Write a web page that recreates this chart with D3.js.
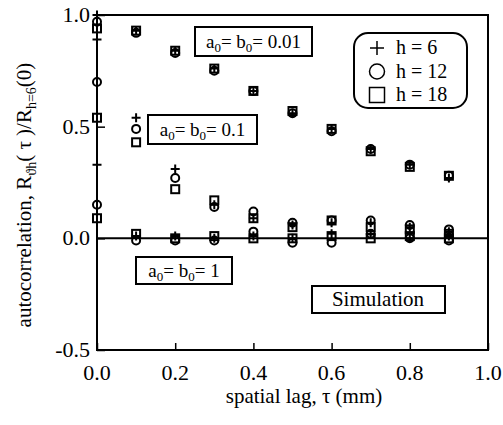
<!DOCTYPE html>
<html lang="en">
  <head>
    <meta charset="UTF-8" />
    <title>Autocorrelation vs spatial lag</title>
    <script src="https://cdn.jsdelivr.net/npm/d3@7/dist/d3.min.js"></script>
    <style>
      body { margin: 0; background: #fff; }
      text { font-family: 'Liberation Serif', 'DejaVu Serif', serif; fill: #000; }
    </style>
  </head>
  <body>
    <div id='app'></div>

    <script>
  // spatial lag values
  const tau = [0, 0.1, 0.2, 0.3, 0.4, 0.5, 0.6, 0.7, 0.8, 0.9]

  // a0 = b0 = 0.01
  const a001_h6  = [1.00, 0.93, 0.84, 0.76, 0.66, 0.56, 0.49, 0.40, 0.33, 0.27]
  const a001_h12 = [0.97, 0.92, 0.83, 0.75, 0.66, 0.56, 0.48, 0.40, 0.33, 0.28]
  const a001_h18 = [0.94, 0.93, 0.84, 0.76, 0.66, 0.57, 0.49, 0.39, 0.32, 0.28]

  // a0 = b0 = 0.1
  const a01_h6  = [0.89, 0.54, 0.31, 0.15, 0.09, 0.06, 0.07, 0.07, 0.05, 0.03]
  const a01_h12 = [0.70, 0.49, 0.27, 0.14, 0.12, 0.07, 0.08, 0.08, 0.06, 0.04]
  const a01_h18 = [0.54, 0.43, 0.22, 0.17, 0.09, 0.05, 0.08, 0.05, 0.04, 0.02]

  // a0 = b0 = 1
  const a1_h6  = [0.33, 0.01, 0.01, 0.00, 0.01, 0.00, 0.02, 0.02, 0.00, 0.01]
  const a1_h12 = [0.15, -0.01, -0.01, -0.01, 0.03, -0.02, -0.02, 0.02, 0.00, -0.01]
  const a1_h18 = [0.09, 0.02, 0.00, 0.01, 0.00, 0.00, 0.01, 0.00, 0.01, 0.00]

  const xTicks = [0, 0.2, 0.4, 0.6, 0.8, 1.0]
  const yTicks = [-0.5, 0, 0.5, 1.0]
  const legendLabels = ['h = 6', 'h = 12', 'h = 18']

  const series = [
    { sym: 'plus', values: a001_h6 }, { sym: 'circle', values: a001_h12 }, { sym: 'square', values: a001_h18 },
    { sym: 'plus', values: a01_h6 }, { sym: 'circle', values: a01_h12 }, { sym: 'square', values: a01_h18 },
    { sym: 'plus', values: a1_h6 }, { sym: 'circle', values: a1_h12 }, { sym: 'square', values: a1_h18 }
  ]

  const width = 503
  const height = 425
  const margin = { top: 15, right: 15, bottom: 75, left: 97 }

  const svg = d3.select('#app').append('svg')
    .attr('width', width)
    .attr('height', height)

  const x = d3.scaleLinear().domain([0, 1]).range([margin.left, width - margin.right])
  const y = d3.scaleLinear().domain([-0.5, 1]).range([height - margin.bottom, margin.top])

  // frame
  svg.append('rect')
    .attr('x', x(0)).attr('y', y(1))
    .attr('width', x(1) - x(0)).attr('height', y(-0.5) - y(1))
    .attr('fill', 'none').attr('stroke', '#000').attr('stroke-width', 2)

  // inward ticks
  const xAxis = d3.axisTop(x).tickValues(xTicks).tickSize(7).tickFormat('')
  svg.append('g').attr('transform', `translate(0,${y(-0.5)})`).call(xAxis)
    .call(g => g.select('.domain').remove())
    .selectAll('line').attr('stroke-width', 1.5)
  const yAxis = d3.axisRight(y).tickValues(yTicks).tickSize(8).tickFormat('')
  svg.append('g').attr('transform', `translate(${x(0)},0)`).call(yAxis)
    .call(g => g.select('.domain').remove())
    .selectAll('line').attr('stroke-width', 1.5)

  // tick labels
  svg.append('g').selectAll('text').data(xTicks).join('text')
    .attr('x', d => x(d)).attr('y', y(-0.5) + 30)
    .attr('text-anchor', 'middle').attr('font-size', 22)
    .text(d => d.toFixed(1))
  svg.append('g').selectAll('text').data(yTicks).join('text')
    .attr('x', x(0) - 7).attr('y', d => y(d) + 7)
    .attr('text-anchor', 'end').attr('font-size', 22)
    .text(d => d.toFixed(1))

  // zero line
  svg.append('line')
    .attr('x1', x(0)).attr('x2', x(1))
    .attr('y1', y(0)).attr('y2', y(0))
    .attr('stroke', '#000').attr('stroke-width', 2)

  // markers
  function drawSymbol(g, sym, s) {
    if (sym === 'plus') {
      g.append('path').attr('d', `M${-s},0H${s}M0,${-s}V${s}`)
        .attr('stroke', '#000').attr('stroke-width', 2).attr('fill', 'none')
    } else if (sym === 'circle') {
      g.append('circle').attr('r', s)
        .attr('stroke', '#000').attr('stroke-width', 2).attr('fill', 'none')
    } else {
      g.append('rect').attr('x', -s).attr('y', -s).attr('width', 2 * s).attr('height', 2 * s)
        .attr('stroke', '#000').attr('stroke-width', 2).attr('fill', 'none')
    }
  }

  const markSize = { plus: 4.5, circle: 4, square: 4 }
  series.forEach(sr => {
    svg.append('g').selectAll('g').data(sr.values).join('g')
      .attr('transform', (d, i) => `translate(${x(tau[i])},${y(d)})`)
      .each(function () { drawSymbol(d3.select(this), sr.sym, markSize[sr.sym]) })
  })

  // annotation boxes
  function labelBox(bx, by, bw, bh, val) {
    svg.append('rect').attr('x', bx).attr('y', by).attr('width', bw).attr('height', bh)
      .attr('fill', '#fff').attr('stroke', '#000').attr('stroke-width', 2)
    const t = svg.append('text').attr('x', bx + bw / 2).attr('y', by + bh / 2 + 6)
      .attr('text-anchor', 'middle').attr('font-size', 19)
    t.append('tspan').text('a')
    t.append('tspan').attr('font-size', 13).attr('dy', 4).text('0')
    t.append('tspan').attr('dy', -4).text('= b')
    t.append('tspan').attr('font-size', 13).attr('dy', 4).text('0')
    t.append('tspan').attr('dy', -4).text('= ' + val)
  }
  labelBox(195, 27, 117, 29, '0.01')
  labelBox(148, 115, 109, 29, '0.1')
  labelBox(136, 257, 96, 27, '1')

  svg.append('rect').attr('x', 312).attr('y', 286).attr('width', 133).attr('height', 27)
    .attr('fill', '#fff').attr('stroke', '#000').attr('stroke-width', 2)
  svg.append('text').attr('x', 378).attr('y', 306)
    .attr('text-anchor', 'middle').attr('font-size', 21).text('Simulation')

  // legend
  const legend = svg.append('g')
  legend.append('rect').attr('x', 354).attr('y', 33).attr('width', 113).attr('height', 75)
    .attr('rx', 14).attr('fill', '#fff').attr('stroke', '#000').attr('stroke-width', 2)
  const legSyms = ['plus', 'circle', 'square']
  legSyms.forEach((s, i) => {
    const gy = 48 + i * 23.5
    const g = legend.append('g').attr('transform', `translate(377,${gy})`)
    drawSymbol(g, s, s === 'plus' ? 7 : 7.5)
    g.selectAll('*').attr('stroke-width', 1.5)
    legend.append('text').attr('x', 396).attr('y', gy + 6)
      .attr('font-size', 20).text(legendLabels[i])
  })

  // axis titles
  svg.append('text').attr('x', 304).attr('y', 403)
    .attr('text-anchor', 'middle').attr('font-size', 21)
    .text('spatial lag,  τ (mm)')

  const yl = svg.append('text')
    .attr('transform', `translate(31,${195}) rotate(-90)`)
    .attr('text-anchor', 'middle').attr('font-size', 21)
  yl.append('tspan').text('autocorrelation, R')
  yl.append('tspan').attr('font-size', 14).attr('dy', 5).text('ϑh')
  yl.append('tspan').attr('dy', -5).text('( τ )/R')
  yl.append('tspan').attr('font-size', 14).attr('dy', 5).text('h=6')
  yl.append('tspan').attr('dy', -5).text('(0)')
    </script>
  </body>
</html>
